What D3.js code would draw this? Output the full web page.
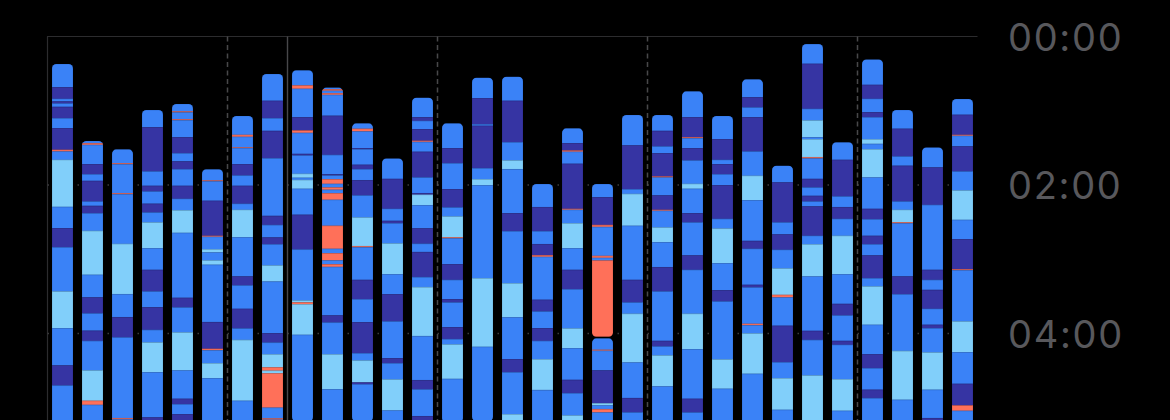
<!DOCTYPE html>
<html>
<head>
<meta charset="utf-8">
<script src="https://cdn.jsdelivr.net/npm/d3@7"></script>
<style>
  html, body { margin: 0; background: #000; overflow: hidden; }
</style>
</head>
<body>
<div id="chart"></div>
<script>
// One bar per night, 24 Aug – 23 Sep 2021
const nights = [
  "2021-08-24","2021-08-25","2021-08-26","2021-08-27","2021-08-28","2021-08-29","2021-08-30",
  "2021-08-31","2021-09-01","2021-09-02","2021-09-03","2021-09-04","2021-09-05","2021-09-06",
  "2021-09-07","2021-09-08","2021-09-09","2021-09-10","2021-09-11","2021-09-12","2021-09-13",
  "2021-09-14","2021-09-15","2021-09-16","2021-09-17","2021-09-18","2021-09-19","2021-09-20",
  "2021-09-21","2021-09-22","2021-09-23"
];

// minutes after midnight when the first stage of the night starts
const bedtimes = [
  22.2, 84.4, 91.2, 59.4, 54.5, 107.3, 64.2, 30.3, 27.3, 41.3, 70.2, 98.5, 49.4, 70.2, 33.3, 32.5,
  119.2, 74.2, 119.2, 63.4, 63.4, 44.3, 64.2, 34.6, 104.4, 6.1, 85.5, 18.5, 59.4, 89.6, 50.5
];

// stage sequence per night: [stage, minutes]; "-" = out of bed
const stages = [
  [["C",18.9],["D",9.4],["C",2.2],["D",1.6],["C",2.7],["D",9.1],["C",8.1],["D",17.5],["A",1.4],["C",6.7],["R",38],["C",17.2],["D",15.4],["C",35.8],["R",29.6],["C",30.2],["D",16.2],["C",40]],
  [["C",1.9],["A",1.4],["C",15.6],["D",8.1],["C",5.4],["D",16.7],["C",3.5],["D",5.9],["C",14.3],["R",35.5],["C",18.3],["D",12.9],["C",14],["D",8.2],["C",23.9],["R",24.5],["A",3.3],["C",30]],
  [["C",11.3],["A",0.8],["C",23.4],["A",0.8],["C",40.2],["R",40.6],["C",18.6],["D",16.4],["C",65.2],["A",1],["C",20]],
  [["C",14],["D",35.8],["C",11.6],["D",4.6],["C",9.9],["D",7.1],["C",8],["R",20.8],["C",17.5],["D",17.5],["C",12.7],["D",18.3],["C",10.2],["R",24],["C",36.6],["D",10]],
  [["C",6.2],["A",0.8],["C",5.4],["A",0.8],["C",13.8],["D",12.9],["C",6.7],["D",6.2],["C",13.5],["D",10.5],["C",9.2],["R",18.3],["C",52.5],["D",7.8],["C",20.2],["R",30.7],["C",22.9],["D",4.3],["C",8.1],["D",10]],
  [["C",9.2],["A",0.6],["C",15.8],["D",28.3],["A",0.8],["C",10],["R",2.7],["C",6.4],["R",3.5],["C",46.3],["D",21.6],["A",1.1],["C",10.5],["R",12.1],["C",40]],
  [["C",15.4],["A",1.6],["C",8.4],["A",0.6],["C",13.1],["D",9.2],["C",8.3],["D",14.5],["C",4.9],["R",22.1],["C",31.8],["D",7.2],["C",18.9],["D",15.9],["C",9.2],["R",49.2],["C",30]],
  [["C",21.8],["D",14],["C",10.3],["D",22.1],["C",46.6],["D",7.3],["C",10.2],["D",5.4],["C",17.2],["R",13],["C",41.7],["D",7.6],["C",9.4],["R",10.6],["A",2.7],["R",2.1],["A",27.8],["C",8.7],["A",1],["C",20]],
  [["C",12.4],["A",2.7],["C",22.9],["D",10.8],["A",1.9],["C",17],["D",1.3],["C",14.8],["R",3.2],["C",1.7],["R",7.2],["C",21],["D",28.1],["C",41.2],["R",1.5],["A",1.5],["R",24.7],["C",70]],
  [["C",1.4],["A",1.3],["C",1.9],["A",1.4],["C",16.9],["D",31.6],["C",15.6],["D",1.1],["C",2.9],["A",3.8],["C",3],["A",1.8],["C",2.7],["A",5.4],["C",21],["A",18.6],["C",3.5],["A",5.9],["C",3],["A",2.2],["C",39.3],["D",5.7],["C",25.6],["R",28.3],["C",30]],
  [["C",4.5],["A",2.2],["C",13.5],["D",0.8],["C",12.6],["D",3.5],["C",8.9],["D",12.4],["C",17.8],["R",23.1],["A",0.9],["C",26.4],["D",15.6],["C",18.6],["D",25],["C",6],["R",17.7],["D",1.4],["C",30]],
  [["C",16.7],["D",24.2],["C",9.7],["D",1.9],["C",16.4],["R",24.8],["C",16.2],["D",22],["C",29.7],["D",4],["C",13.2],["R",25.1],["C",20]],
  [["C",15.9],["D",3],["C",6.7],["D",9.4],["A",0.9],["C",8],["D",20.8],["C",12.6],["D",1.3],["R",8.4],["C",18.8],["D",12.4],["C",6.7],["D",20.2],["C",8.1],["R",39.6],["C",35.6],["D",7.5],["C",21.6],["D",10]],
  [["C",20.2],["D",12.1],["C",21],["D",14.8],["C",7.3],["R",16.8],["A",0.8],["C",20.9],["D",12.7],["C",15.6],["D",2.7],["C",19.9],["D",9.6],["C",4.4],["R",27.8],["C",35]],
  [["C",16.7],["D",21],["C",1.3],["D",34.2],["C",8.9],["R",4.9],["C",75.1],["R",55.5],["C",60]],
  [["C",19.6],["D",33.4],["C",14.8],["R",7],["C",35.6],["D",14.5],["C",42.1],["R",27.5],["C",33.9],["D",10.5],["C",33.9],["R",10]],
  [["C",18.8],["D",19.4],["C",10.5],["D",8.9],["A",1.4],["C",34.7],["D",9.5],["C",13.4],["D",10.3],["C",14.8],["R",24.9],["C",30]],
  [["C",12.1],["D",6],["A",1],["C",9.7],["D",36.4],["A",0.8],["C",10.8],["R",20.2],["C",17.5],["D",15.6],["C",31.8],["R",15.9],["C",25.6],["D",10.7],["C",18.1],["R",10]],
  [["C",10.8],["D",22.4],["A",1.6],["C",23.4],["A",1.6],["C",2.2],["A",61.4],["-",1.3],["C",9.4],["A",0.8],["C",15.9],["D",26.4],["R",1.9],["C",2.9],["A",2.8],["C",15]],
  [["C",24.8],["D",35.3],["C",3.8],["R",25.8],["C",43.7],["D",18.3],["C",9.1],["R",39.4],["C",28.7],["D",11.6],["C",20]],
  [["C",13],["D",12.6],["C",5.4],["D",18.9],["A",0.8],["C",14.5],["D",11.6],["A",0.8],["C",13.5],["R",11.8],["C",20.2],["D",19.7],["C",39.9],["D",4.5],["C",7.3],["R",25],["C",30]],
  [["C",21],["D",16.2],["A",0.8],["C",8.1],["D",9.9],["C",18.9],["R",4],["C",19.7],["D",7.5],["C",26.7],["D",11.6],["C",35.5],["R",28.6],["C",40.1],["D",11.1],["C",20]],
  [["C",18.9],["D",16.7],["C",3.5],["D",8.1],["C",8.9],["D",27.2],["C",7.9],["R",27.9],["C",21.8],["D",9.2],["C",46.8],["R",23.7],["C",30]],
  [["C",14.6],["D",8.3],["C",7.8],["D",27.8],["C",19.6],["R",19.7],["C",32.9],["D",6.4],["C",29.1],["D",2.1],["C",29.4],["A",1.1],["C",6.7],["R",32.6],["C",40]],
  [["C",13.7],["D",32.3],["C",9.7],["D",12.4],["C",15.1],["R",21.3],["A",2.1],["C",22.9],["D",29.4],["C",12.9],["R",25.6],["C",20]],
  [["C",16.1],["D",36.4],["C",9.4],["R",13.5],["C",1.6],["R",14.5],["A",1.1],["C",16.5],["D",7],["C",6.7],["D",4.6],["C",4],["D",23.7],["C",6.8],["R",26.1],["C",43.9],["D",7.3],["C",28.8],["R",40]],
  [["C",14.3],["D",29.6],["C",8.6],["D",9.5],["C",13.7],["R",31],["C",24],["D",9.4],["C",20.5],["D",3.2],["C",27.7],["R",25.6],["C",20]],
  [["C",20.7],["D",11.3],["C",10.8],["D",4],["C",17.8],["R",3.8],["C",4.3],["R",22.9],["C",25.3],["D",8.4],["C",13.4],["D",6.8],["C",9.1],["D",18.3],["C",6.7],["R",31],["C",23.8],["D",11.2],["C",17.5],["D",6.7],["C",30]],
  [["C",15.3],["D",22.4],["C",7.5],["D",28.9],["C",6.7],["R",10],["A",0.8],["C",43.1],["D",14.3],["C",45.8],["R",39.5],["C",20]],
  [["C",16.4],["D",30.2],["C",52.5],["D",8.1],["C",8.1],["D",15.3],["C",12.9],["D",2.7],["C",19.7],["R",30.1],["C",22.9],["D",10]],
  [["C",12.9],["D",16.2],["A",0.8],["C",8.6],["D",20.2],["C",15.4],["R",23.7],["C",15.6],["D",24.2],["A",0.8],["C",41.5],["R",24.8],["C",25.6],["D",17.5],["A",4.3],["C",20]]
];

const stageKeys = ["A", "R", "C", "D"]; // Awake, REM, Core, Deep
const stageColors = ["#ff7059", "#81cffa", "#3a82f7", "#3634a3"];
const tickMinutes = [0, 120, 240];
const tickLabels = ["00:00", "02:00", "04:00"];

const width = 1170;
const height = 420;
const plotLeft = 47.5, plotRight = 977.5, plotTop = 36.5;

const svg = d3.select("#chart")
    .append("svg")
    .attr("width", width)
    .attr("height", height);

const parse = d3.timeParse("%Y-%m-%d");

const x = d3.scaleBand()
    .domain(nights)
    .range([plotLeft, plotRight])
    .paddingInner(0.3)
    .paddingOuter(0.15);

// 2 hours = 148.5px
const y = d3.scaleLinear()
    .domain([0, 360])
    .range([plotTop, plotTop + 445.5]);

const color = d3.scaleOrdinal().domain(stageKeys).range(stageColors);

// frame: top line and left line
svg.append("line")
    .attr("x1", plotLeft - 0.5).attr("x2", plotRight)
    .attr("y1", y(0)).attr("y2", y(0))
    .attr("stroke", "#2c2c2e").attr("stroke-width", 1.2);
svg.append("line")
    .attr("x1", plotLeft).attr("x2", plotLeft)
    .attr("y1", y(0)).attr("y2", height)
    .attr("stroke", "#2c2c2e").attr("stroke-width", 1.2);

// dotted hour grid
svg.selectAll(".grid")
    .data(tickMinutes.slice(1))
    .enter().append("line")
    .attr("class", "grid")
    .attr("x1", plotLeft).attr("x2", plotRight)
    .attr("y1", d => y(d)).attr("y2", d => y(d))
    .attr("stroke", "#3a3a3c")
    .attr("stroke-width", 1.5)
    .attr("stroke-dasharray", "1.5,28.5");

// week (dashed) and month (solid) separators
const gapHalf = (x.step() - x.bandwidth()) / 2;
const weekStarts = nights.filter((d, i) => i > 0 && parse(d).getDay() === 1);
const monthStarts = nights.filter(d => parse(d).getDate() === 1);

svg.selectAll(".week")
    .data(weekStarts)
    .enter().append("line")
    .attr("class", "week")
    .attr("x1", d => x(d) - gapHalf).attr("x2", d => x(d) - gapHalf)
    .attr("y1", y(0)).attr("y2", height)
    .attr("stroke", "#48484a")
    .attr("stroke-width", 1.5)
    .attr("stroke-dasharray", "5,3.5");

svg.selectAll(".month")
    .data(monthStarts)
    .enter().append("line")
    .attr("class", "month")
    .attr("x1", d => x(d) - gapHalf).attr("x2", d => x(d) - gapHalf)
    .attr("y1", y(0)).attr("y2", height)
    .attr("stroke", "#48484a")
    .attr("stroke-width", 1.4);

// split each night into in-bed sessions of timed segments
const sessions = [];
nights.forEach((night, i) => {
    let t = bedtimes[i];
    let current = [];
    stages[i].forEach(([k, m]) => {
        if (k === "-") {
            if (current.length) sessions.push({ night, segs: current });
            current = [];
        } else {
            current.push({ k, t0: t, t1: t + m });
        }
        t += m;
    });
    if (current.length) sessions.push({ night, segs: current });
});

const defs = svg.append("defs");
sessions.forEach((s, j) => {
    s.id = "clip" + j;
    defs.append("clipPath").attr("id", s.id)
        .append("rect")
        .attr("x", x(s.night))
        .attr("y", y(s.segs[0].t0))
        .attr("width", x.bandwidth())
        .attr("height", y(s.segs[s.segs.length - 1].t1) - y(s.segs[0].t0))
        .attr("rx", 4.5);
});

const bars = svg.selectAll(".session")
    .data(sessions)
    .enter().append("g")
    .attr("class", "session")
    .attr("clip-path", d => `url(#${d.id})`);

bars.selectAll("rect")
    .data(d => d.segs.map(s => ({ ...s, night: d.night })))
    .enter().append("rect")
    .attr("x", d => x(d.night))
    .attr("width", x.bandwidth())
    .attr("y", d => y(d.t0))
    .attr("height", d => y(d.t1) - y(d.t0))
    .attr("fill", d => color(d.k))
    .attr("stroke", d => d3.color(color(d.k)).darker(0.6))
    .attr("stroke-width", 0.6);

// time labels on the right
const axis = d3.axisRight(y)
    .tickValues(tickMinutes)
    .tickFormat((d, i) => tickLabels[i])
    .tickSize(0)
    .tickPadding(0);

const ax = svg.append("g")
    .attr("transform", "translate(1008,0)")
    .call(axis);
ax.select(".domain").remove();
ax.selectAll("text")
    .attr("fill", "#58585c")
    .style("font-family", "Inter, 'Noto Sans', sans-serif")
    .style("font-size", "38px")
    .style("letter-spacing", "1.7px")
    .attr("dy", "0.36em");
</script>
</body>
</html>
